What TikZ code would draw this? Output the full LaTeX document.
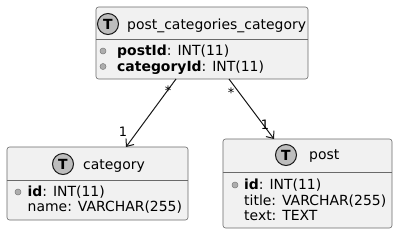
\documentclass[tikz,border=0pt]{standalone}
\usepackage{fontspec}
\setmainfont{DejaVu Sans}
\usepackage{xcolor}
\usepackage{tikz}
\usetikzlibrary{arrows.meta,positioning}
\definecolor{LINE}{HTML}{181818}
\definecolor{BORD}{HTML}{6A6A6A}
\definecolor{BOX}{HTML}{F1F1F1}
\definecolor{SPOT}{HTML}{BDBDBD}
\definecolor{KEYF}{HTML}{ADADAD}
\definecolor{KEYD}{HTML}{7A7A7A}

\begin{document}
\begin{tikzpicture}[
    x=1bp, y=-1bp,
    font=\fontsize{14}{16}\selectfont,
    tbl/.style={draw=BORD, line width=0.6bp, fill=BOX, rounded corners=2.5bp, inner sep=0pt},
    spot/.style={circle, draw=LINE, line width=1bp, fill=SPOT, minimum size=21bp, inner sep=0pt, font=\fontsize{14}{16}\selectfont\bfseries},
    ttl/.style={anchor=base west, inner sep=0pt},
    attr/.style={anchor=base west, inner sep=0pt},
    key/.style={circle, draw=KEYD, fill=KEYF, line width=0.5bp, minimum size=6bp, inner sep=0pt},
    sep/.style={draw=BORD, line width=0.6bp},
    card/.style={font=\fontsize{13}{15}\selectfont, inner sep=0pt},
    arr/.style={-{Straight Barb[length=6bp,width=10bp]}, draw=LINE, line width=1bp},
  ]
  \useasboundingbox (0,0) rectangle (397,234);

  % ===== join table =====
  \node[tbl, minimum width=212bp, minimum height=72bp] (pcc) at (202,43) {};
  \draw[sep] (pcc.west |- 0,39) -- (pcc.east |- 0,39);
  \node[spot] (pccT) at (108,24) {T};
  \node[ttl] (pccN) at (127,29) {post\_categories\_category};
  \node[key] (pccK1) at (103,51) {};
  \node[attr] (pccA1) at (117,55.5) {\textbf{postId}: INT(11)};
  \node[key] (pccK2) at (103,66.5) {};
  \node[attr] (pccA2) at (117,71) {\textbf{categoryId}: INT(11)};

  % ===== category =====
  \node[tbl, minimum width=181bp, minimum height=73bp] (cat) at (97.5,183.5) {};
  \draw[sep] (cat.west |- 0,180) -- (cat.east |- 0,180);
  \node[spot] (catT) at (63,164) {T};
  \node[ttl] (catN) at (83,169.5) {category};
  \node[key] (catK1) at (18,192) {};
  \node[attr] (catA1) at (27.5,196) {\textbf{id}: INT(11)};
  \node[attr] (catA2) at (27.5,211.5) {name: VARCHAR(255)};

  % ===== post =====
  \node[tbl, minimum width=169bp, minimum height=89bp] (post) at (307.5,183.5) {};
  \draw[sep] (post.west |- 0,172) -- (post.east |- 0,172);
  \node[spot] (postT) at (286,155) {T};
  \node[ttl] (postN) at (309,159.5) {post};
  \node[key] (postK1) at (235,185) {};
  \node[attr] (postA1) at (244,189.5) {\textbf{id}: INT(11)};
  \node[attr] (postA2) at (244,205) {title: VARCHAR(255)};
  \node[attr] (postA3) at (244,220.5) {text: TEXT};

  % links
  \coordinate (pccL) at (176,79);
  \coordinate (pccR) at (229,79);
  \coordinate (catIn) at (126,147);
  \coordinate (postIn) at (274,139);
  \draw[arr] (pccL) -- (catIn);
  \draw[arr] (pccR) -- (postIn);
  \node[card] (m1) at (168,91) {*};
  \node[card] (o1) at (123,132) {1};
  \node[card] (m2) at (231,93) {*};
  \node[card] (o2) at (265,125) {1};

\end{tikzpicture}
\end{document}
